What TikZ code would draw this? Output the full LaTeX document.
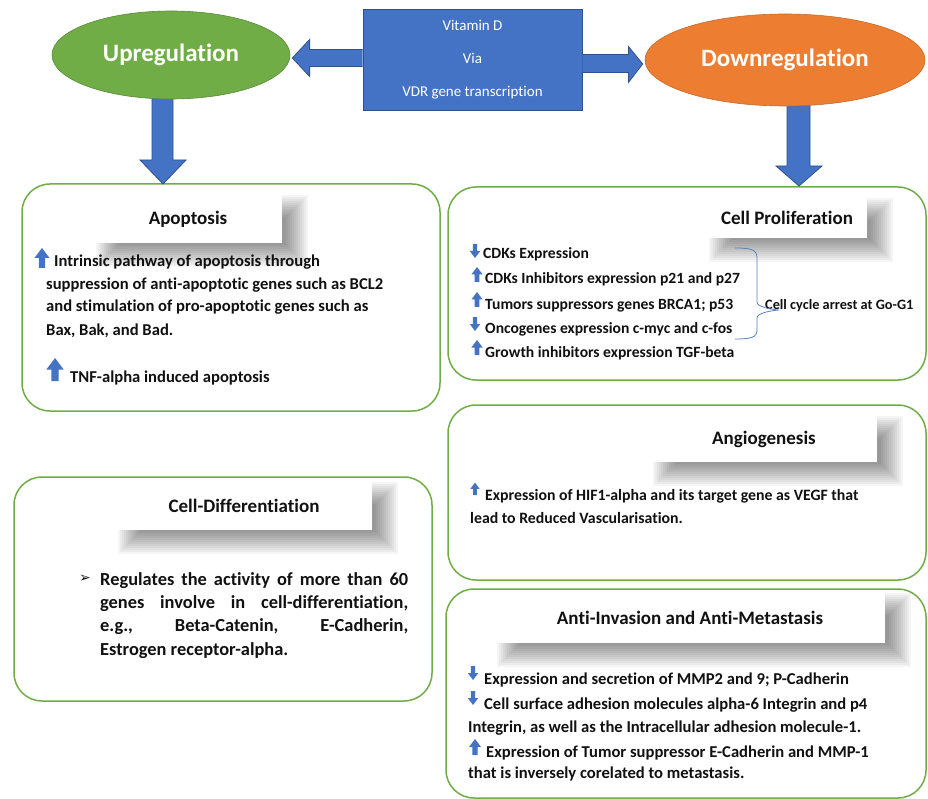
\documentclass[tikz,border=0pt]{standalone}
\usepackage{fontspec}
\setmainfont{Carlito}[Ligatures=NoCommon]
\newfontfamily\symfont{DejaVu Sans}
\usetikzlibrary{shapes.geometric,calc}
\definecolor{gr}{HTML}{70AD47}
\definecolor{og}{HTML}{ED7D31}
\definecolor{bl}{HTML}{4472C4}
\definecolor{bld}{HTML}{2F528F}
\definecolor{txt}{HTML}{111111}
\definecolor{brc}{HTML}{5B7FC4}
\pgfdeclarelayer{bgl}
\pgfdeclarelayer{shl}
\pgfsetlayers{bgl,shl,main}
\newcommand\tshadow[1]{%
  \begin{pgfonlayer}{shl}
  \foreach \e in {12,10,...,-10}{%
    \fill[black, opacity=0.04] ($(#1.south west)+(14-\e,12+\e)$) rectangle ($(#1.north east)+(14+\e,12-\e)$);
  }
  \end{pgfonlayer}}
\begin{document}
\begin{tikzpicture}[x=1pt,y=-1pt,
 panel/.style={draw=gr, line width=1.5pt, rounded corners=28pt, inner sep=0},
 ttl/.style={fill=white, inner sep=0, text=txt, font=\fontsize{19}{22}\selectfont\bfseries},
 body/.style={font=\fontsize{16.6}{20}\selectfont\bfseries, anchor=base west, inner sep=0, text=txt},
 small/.style={font=\fontsize{15.6}{20}\selectfont\bfseries, anchor=base west, inner sep=0, text=txt},
 blk/.style={fill=bl, draw=bld, line width=0.8pt},
 upicon/.pic={\fill[bl] (-3.2,0) -- (-3.2,-10) -- (-7.5,-10) -- (0,-20) -- (7.5,-10) -- (3.2,-10) -- (3.2,0) -- cycle;},
 dnicon/.pic={\fill[bl] (-3.2,-20) -- (-3.2,-10) -- (-7.5,-10) -- (0,0) -- (7.5,-10) -- (3.2,-10) -- (3.2,-20) -- cycle;}]
\begin{pgfonlayer}{bgl}
\fill[white] (0,0) rectangle (928,799);
\end{pgfonlayer}
\useasboundingbox (0,0) rectangle (928,799);

% panels
\node[panel, minimum width=418, minimum height=227] (apop) at (231,297.5) {};
\node[panel, minimum width=478, minimum height=193] (prol) at (687,283.5) {};
\node[panel, minimum width=478, minimum height=175] (angio) at (687,492.5) {};
\node[panel, minimum width=480, minimum height=209] (inv) at (686,693.5) {};
\node[panel, minimum width=418, minimum height=224] (diff) at (223,589) {};

% block arrows down
\coordinate (t1) at (163,184);
\coordinate (t2) at (799,186);
\draw[blk] (152,92) -- (152,160) -- (140,160) -- (t1) -- (186,160) -- (173,160) -- (173,92) -- cycle;
\draw[blk] (787,95) -- (787,166) -- (776,166) -- (t2) -- (822,166) -- (810,166) -- (810,95) -- cycle;

% ellipses and central box
\node[ellipse, fill=gr, draw=gr!80!black, line width=0.6pt, minimum width=238, minimum height=88, text=white,
  font=\fontsize{25}{28}\selectfont\bfseries] (up) at (171,55) {Upregulation};
\node[ellipse, fill=og, draw=og!85!black, line width=0.6pt, minimum width=280, minimum height=92, text=white,
  font=\fontsize{25}{28}\selectfont\bfseries] (dn) at (785,60) {Downregulation};
\node[fill=bl, draw=bld, line width=0.8pt, minimum width=219, minimum height=101, text=white, align=center,
  font=\fontsize{15}{33}\selectfont] (vit) at (472.5,59.5) {Vitamin D\\Via\\VDR gene transcription};

\draw[blk] ($(vit.west)+(0,-10)$) -- ++(-53,0) -- ++(0,-10) -- ($(up.east)+(2,3)$) -- ($(vit.west)+(-53,17)$) -- ++(0,-10) -- ($(vit.west)+(0,7)$);
\draw[blk] ($(vit.east)+(0,-5)$) -- ++(46,0) -- ++(0,-8) -- ($(dn.west)+(-2,4)$) -- ($(vit.east)+(46,23)$) -- ++(0,-10) -- ($(vit.east)+(0,13)$);

% titles
\node[ttl, minimum width=187, minimum height=48] (tA) at (188,219) {Apoptosis};
\node[ttl, minimum width=160, minimum height=40] (tP) at (787,218) {Cell Proliferation};
\node[ttl, minimum width=225, minimum height=46] (tG) at (764,439) {Angiogenesis};
\node[ttl, minimum width=390, minimum height=50] (tI) at (690,618) {Anti-Invasion and Anti-Metastasis};
\node[ttl, minimum width=256, minimum height=48] (tD) at (244,506) {Cell-Differentiation};
\tshadow{tA}\tshadow{tP}\tshadow{tG}\tshadow{tI}\tshadow{tD}

% apoptosis text
\pic at (42,268) {upicon};
\node[body] (a1) at (54,267) {Intrinsic pathway of apoptosis through};
\node[body] (a2) at (46,290) {suppression of anti-apoptotic genes such as BCL2};
\node[body] (a3) at (46,312) {and stimulation of pro-apoptotic genes such as};
\node[body] (a4) at (46,335) {Bax, Bak, and Bad.};
\pic[scale=1.15] at (55,381) {upicon};
\node[body] (a5) at (70,382) {TNF-alpha induced apoptosis};

% cell proliferation text
\pic[scale=0.7] at (475,258) {dnicon};
\node[small] (p1) at (483,259) {CDKs Expression};
\pic[scale=0.75] at (477,282) {upicon};
\node[small] (p2) at (485,284) {CDKs Inhibitors expression p21 and p27};
\pic[scale=0.75] at (477,307) {upicon};
\node[small] (p3) at (485,309) {Tumors suppressors genes BRCA1; p53};
\pic[scale=0.7] at (475,331) {dnicon};
\node[small] (p4) at (485,333) {Oncogenes expression c-myc and c-fos};
\pic[scale=0.75] at (477,355) {upicon};
\node[small] (p5) at (485,357) {Growth inhibitors expression TGF-beta};
\node[font=\fontsize{14.3}{16}\selectfont\bfseries, anchor=base west, inner sep=0, text=txt] (cc) at (765,309) {Cell cycle arrest at Go-G1};
\draw[brc, line width=0.8pt] (735,248) .. controls (752,248) and (757,250) .. (757,258) -- (757,302)
  .. controls (757,307) and (770,309) .. (778,310) .. controls (770,311) and (757,313) .. (757,318) -- (757,330)
  .. controls (757,337) and (752,339) .. (735,339);

% angiogenesis text
\pic[scale=0.62] at (475,495) {upicon};
\node[body, font=\fontsize{15.8}{20}\selectfont\bfseries] (g1) at (485,500) {Expression of HIF1-alpha and its target gene as VEGF that};
\node[body, font=\fontsize{15.8}{20}\selectfont\bfseries] (g2) at (470,523) {lead to Reduced Vascularisation.};

% invasion text
\pic[scale=0.7] at (473,680) {dnicon};
\node[body] (i1) at (484,684) {Expression and secretion of MMP2 and 9; P-Cadherin};
\pic[scale=0.7] at (473,705) {dnicon};
\node[body] (i2) at (484,709) {Cell surface adhesion molecules alpha-6 Integrin and p4};
\node[body] (i3) at (468,732) {Integrin, as well as the Intracellular adhesion molecule-1.};
\pic[scale=0.8] at (475,755) {upicon};
\node[body] (i4) at (486,757) {Expression of Tumor suppressor E-Cadherin and MMP-1};
\node[body] (i5) at (468,778) {that is inversely corelated to metastasis.};

% differentiation text
\node[font=\fontsize{14}{15}\symfont, inner sep=0, text=txt] (bul) at (85,579) {➢};
\node[body, font=\fontsize{18.4}{20}\selectfont\bfseries] (d1) at (100,585) {\makebox[308pt][s]{Regulates the activity of more than 60}};
\node[body, font=\fontsize{18.4}{20}\selectfont\bfseries] (d2) at (100,608) {\makebox[308pt][s]{genes involve in cell-differentiation,}};
\node[body, font=\fontsize{18.4}{20}\selectfont\bfseries] (d3) at (100,631) {\makebox[308pt][s]{e.g., Beta-Catenin, E-Cadherin,}};
\node[body, font=\fontsize{18.4}{20}\selectfont\bfseries] (d4) at (100,655) {Estrogen receptor-alpha.};
\end{tikzpicture}
\end{document}
